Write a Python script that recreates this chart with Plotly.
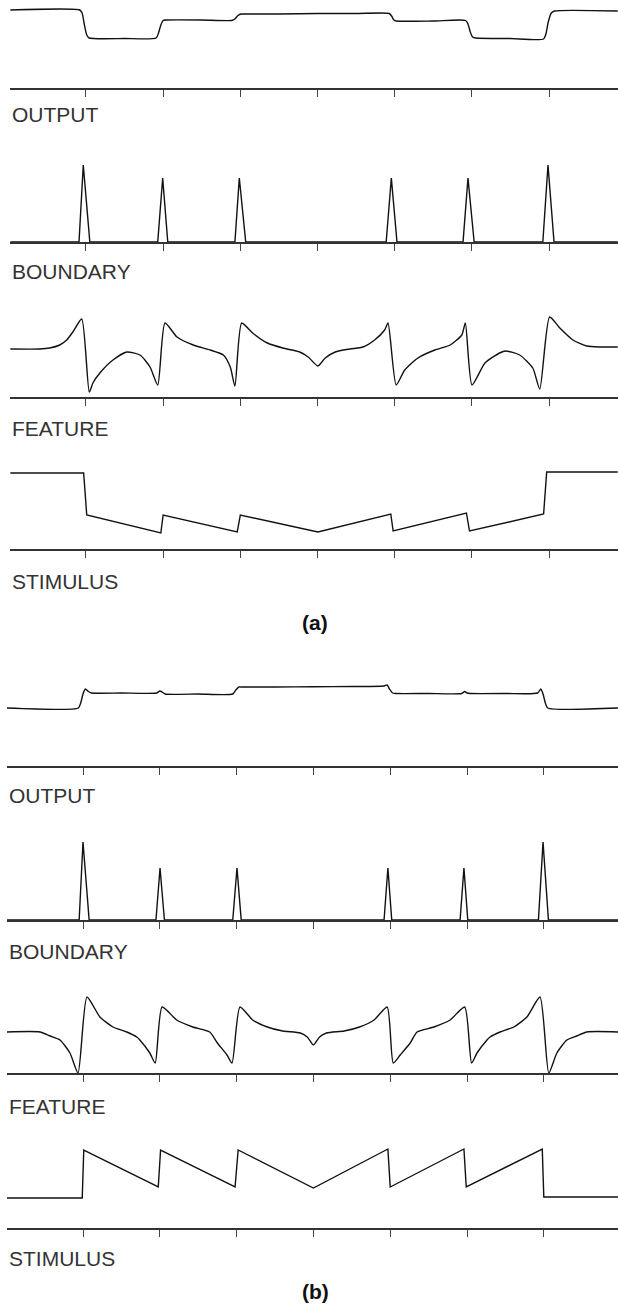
import plotly.graph_objects as go

# ---------------- data (x in tick units, y = activity level) ----------------
ticks = [1, 2, 3, 4, 5, 6, 7]
row_names = ["OUTPUT", "BOUNDARY", "FEATURE", "STIMULUS"]
panel_names = ["(a)", "(b)"]

out_a_x = [0.02, 0.92, 0.95, 0.98, 1.01, 1.04, 1.5, 1.91, 1.94, 1.97, 2.0, 2.04, 2.5, 2.89, 2.93, 2.97, 3.01, 3.05, 3.5, 4.0, 4.5, 4.93, 4.96, 4.99, 5.02, 5.5, 5.92, 5.95, 5.98, 6.01, 6.05, 6.5, 6.93, 6.96, 6.99, 7.03, 7.07, 7.89]
out_a_y = [78, 78, 75, 63, 53, 50, 49.5, 50, 55, 63, 67.5, 68, 68, 67.5, 69, 72.5, 74, 74, 74, 74.5, 74.5, 74.5, 72, 68, 67, 67, 67.5, 64, 56, 51, 50, 49.5, 49, 54, 66, 75, 77, 77]

bnd_a_x = [0.02, 0.91, 0.965, 1.05, 1.93, 1.994, 2.06, 2.93, 2.987, 3.07, 4.89, 4.957, 5.03, 5.886, 5.95, 6.03, 6.92, 6.987, 7.065, 7.89]
bnd_a_y = [0, 0, 77, 0, 0, 64, 0, 0, 64, 0, 0, 64, 0, 0, 64, 0, 0, 77, 0, 0]

feat_a_x = [0.02, 0.40, 0.53, 0.66, 0.75, 0.83, 0.945, 1.043, 1.09, 1.18, 1.35, 1.53, 1.70, 1.83, 1.93, 2.024, 2.18, 2.39, 2.61, 2.78, 2.87, 2.93, 3.018, 3.16, 3.35, 3.55, 3.77, 3.88, 4.005, 4.10, 4.23, 4.42, 4.59, 4.74, 4.87, 4.914, 5.02, 5.13, 5.30, 5.52, 5.72, 5.87, 5.916, 6.002, 6.17, 6.36, 6.44, 6.62, 6.79, 6.88, 7.008, 7.14, 7.31, 7.49, 7.66, 7.89]
feat_a_y = [48, 48, 49, 52, 57, 65, 78, 5, 14, 24, 37, 45, 42, 30, 12, 74, 60, 52, 47, 42, 30, 11, 74, 64, 54, 49, 45, 40, 31, 39, 45, 48, 50, 57, 67, 74, 12, 27, 39, 47, 52, 62, 74, 12, 34, 44, 46, 42, 29, 8, 80, 69, 57, 51, 50, 50]

stim_a_x = [0.02, 0.97, 1.01, 1.97, 2.0, 2.96, 3.0, 4.005, 4.95, 4.98, 5.93, 5.97, 6.93, 6.97, 7.89]
stim_a_y = [76, 76, 34, 16, 34, 17, 34, 17, 35, 18, 36, 18, 35, 77, 77]

out_b_x = [0.01, 0.94, 0.97, 1.0, 1.03, 1.07, 1.11, 1.5, 1.96, 2.0, 2.04, 2.07, 2.5, 2.95, 2.99, 3.03, 3.07, 3.5, 4.0, 4.5, 4.92, 4.96, 4.99, 5.03, 5.07, 5.5, 5.93, 5.97, 6.0, 6.04, 6.5, 6.92, 6.96, 6.99, 7.02, 7.05, 7.97]
out_b_y = [58, 58, 63, 72, 77, 74.5, 73, 73, 73, 75, 73.5, 72, 72, 72, 76, 79, 79, 79, 79.2, 79.5, 80, 81, 77, 73, 72.5, 72.5, 72.5, 74.5, 73, 72.5, 72.5, 73, 77, 72, 63, 58, 58]

bnd_b_x = [0.01, 0.95, 1.0, 1.08, 1.95, 2.003, 2.06, 2.95, 3.005, 3.06, 4.92, 4.97, 5.02, 5.91, 5.96, 6.01, 6.93, 6.99, 7.06, 7.97]
bnd_b_y = [0, 0, 78, 0, 0, 52, 0, 0, 52, 0, 0, 52, 0, 0, 52, 0, 0, 78, 0, 0]

feat_b_x = [0.01, 0.44, 0.57, 0.70, 0.83, 0.935, 1.052, 1.22, 1.39, 1.57, 1.70, 1.74, 1.87, 1.94, 2.03, 2.22, 2.43, 2.65, 2.75, 2.875, 2.94, 3.044, 3.21, 3.40, 3.60, 3.83, 3.92, 4.0, 4.08, 4.17, 4.40, 4.60, 4.79, 4.96, 5.04, 5.13, 5.26, 5.35, 5.57, 5.78, 5.97, 6.06, 6.13, 6.26, 6.30, 6.43, 6.61, 6.78, 6.95, 7.065, 7.17, 7.30, 7.43, 7.56, 7.97]
feat_b_y = [41, 41, 37, 33, 20, 0, 76, 56, 46, 41, 36, 33, 20, 10, 66, 53, 46, 41, 30, 18, 10, 66, 53, 46, 42, 40, 36, 28, 36, 40, 42, 46, 53, 66, 10, 18, 30, 41, 46, 53, 66, 10, 20, 33, 36, 41, 46, 56, 76, 0, 20, 33, 37, 41, 41]

stim_b_x = [0.01, 0.99, 1.01, 1.98, 2.01, 2.98, 3.02, 4.0, 4.97, 5.0, 5.96, 5.99, 6.98, 7.0, 7.97]
stim_b_y = [30, 30, 78, 41, 78, 41, 78, 40, 79, 41, 79, 41, 79, 31, 31]

# ---------------- layout helpers ----------------
W, H = 618, 1305
SPAN = 85  # pixel height of each strip above its axis line

panels = [
    dict(series=[(out_a_x, out_a_y, True), (bnd_a_x, bnd_a_y, False), (feat_a_x, feat_a_y, True), (stim_a_x, stim_a_y, False)],
         axis_px=[88, 242, 397, 549], label_px=[114, 272, 428, 581], left_px=10, xr=[0.0156, 7.894],
         title_px=623),
    dict(series=[(out_b_x, out_b_y, True), (bnd_b_x, bnd_b_y, False), (feat_b_x, feat_b_y, True), (stim_b_x, stim_b_y, False)],
         axis_px=[766, 920, 1073, 1228], label_px=[795, 951, 1106, 1258], left_px=7, xr=[0.0104, 7.966],
         title_px=1291),
]

fig = go.Figure()
layout = {}
annotations = []
k = 0
for pi, p in enumerate(panels):
    for ri in range(4):
        k += 1
        xs, ys, smooth = p["series"][ri]
        ax = p["axis_px"][ri]
        xa = "x" if k == 1 else f"x{k}"
        ya = "y" if k == 1 else f"y{k}"
        line = dict(color="#111111", width=1.4)
        if smooth:
            line.update(shape="spline", smoothing=0.6)
        fig.add_trace(go.Scatter(x=xs, y=ys, mode="lines", line=line,
                                 xaxis=xa, yaxis=ya, showlegend=False, hoverinfo="skip"))
        layout[f"xaxis{'' if k == 1 else k}"] = dict(
            domain=[p["left_px"] / W, 1], range=p["xr"], anchor=ya,
            showline=True, linecolor="#333333", linewidth=1.5,
            ticks="outside", ticklen=7, tickwidth=1, tickcolor="#444444",
            tickvals=ticks, showticklabels=False, showgrid=False, zeroline=False,
            fixedrange=True)
        layout[f"yaxis{'' if k == 1 else k}"] = dict(
            domain=[1 - ax / H, 1 - (ax - SPAN) / H], range=[0, SPAN], anchor=xa,
            visible=False, fixedrange=True)
        annotations.append(dict(
            text=row_names[ri], xref="paper", yref="paper",
            x=p["left_px"] / W, y=1 - p["label_px"][ri] / H,
            xanchor="left", yanchor="middle", showarrow=False,
            font=dict(family="Liberation Sans, Arial, sans-serif", size=21, color="#333333")))
    annotations.append(dict(
        text=f"<b>{panel_names[pi]}</b>", xref="paper", yref="paper",
        x=315 / W, y=1 - p["title_px"] / H, xanchor="center", yanchor="middle",
        showarrow=False,
        font=dict(family="Liberation Sans, Arial, sans-serif", size=21, color="#111111")))

fig.update_layout(**layout)
fig.update_layout(width=W, height=H, margin=dict(l=0, r=0, t=0, b=0),
                  paper_bgcolor="white", plot_bgcolor="white",
                  annotations=annotations, showlegend=False)

fig.write_html("out.html")
